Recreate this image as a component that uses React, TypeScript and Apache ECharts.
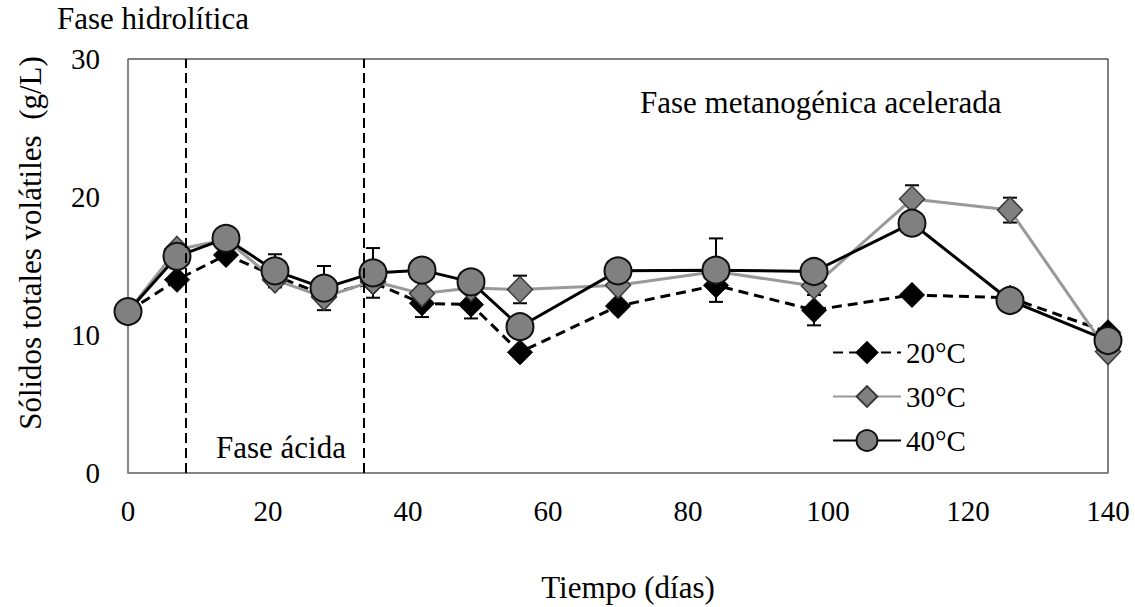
import React, { useEffect, useRef } from "react";
import * as echarts from "echarts";

const days = [0, 7, 14, 21, 28, 35, 42, 49, 56, 70, 84, 98, 112, 126, 140];
const s20 = [11.7, 14.0, 15.8, 14.3, 12.9, 13.8, 12.3, 12.2, 8.75, 12.1, 13.6, 11.8, 12.9, 12.7, 10.2];
const s30 = [11.7, 16.2, 16.9, 14.0, 12.75, 13.9, 13.0, 13.4, 13.3, 13.6, 14.6, 13.55, 19.85, 19.05, 8.8];
const s40 = [11.7, 15.7, 17.0, 14.65, 13.4, 14.5, 14.7, 13.85, 10.6, 14.65, 14.7, 14.6, 18.1, 12.5, 9.6];
const e20 = [0, 0, 0, 0, 0, 0, 1.0, 1.0, 0, 0, 0, 1.1, 0, 0, 0];
const e30 = [0, 0, 0, 0, 0, 0, 0, 0, 1.0, 0, 0, 0, 1.0, 0.9, 0];
const e40 = [0, 0, 0, 1.2, 1.6, 1.8, 0, 0, 0, 0, 2.3, 0, 0, 0, 0];
const phaseLines = [8.3, 33.7];
const seriesNames = ["20°C", "30°C", "40°C"];

const FONT = '"Liberation Serif", "Times New Roman", serif';
const FS = 29;
const FT = 31;

export default function App() {
  const ref = useRef<HTMLDivElement>(null);
  useEffect(() => {
    if (!ref.current) return;
    const chart = echarts.init(ref.current, null, { renderer: "svg" });
    const pair = (vals: number[]) => days.map((d, i) => [d, vals[i]]);
    const errData: number[][] = [];
    [
      [s20, e20],
      [s30, e30],
      [s40, e40],
    ].forEach(([v, e]) => {
      days.forEach((d, i) => {
        if (e[i] > 0) errData.push([d, v[i], e[i]]);
      });
    });
    chart.setOption({
      animation: false,
      backgroundColor: "#fff",
      textStyle: { fontFamily: FONT },
      grid: {
        left: 128,
        top: 59,
        right: 27,
        bottom: 134,
        show: true,
        borderColor: "#000",
        borderWidth: 1,
        containLabel: false,
      },
      xAxis: {
        type: "value",
        min: 0,
        max: 140,
        interval: 20,
        axisLine: { show: true, lineStyle: { color: "#888", width: 1.5 } },
        axisTick: { show: false },
        splitLine: { show: false },
        axisLabel: { fontSize: FS, fontFamily: FONT, color: "#000", margin: 23 },
      },
      yAxis: {
        type: "value",
        min: 0,
        max: 30,
        interval: 10,
        axisLine: { show: true, lineStyle: { color: "#888", width: 1.5 } },
        axisTick: { show: false },
        splitLine: { show: false },
        axisLabel: { fontSize: FS, fontFamily: FONT, color: "#000", margin: 28 },
      },
      legend: {
        data: seriesNames,
        orient: "vertical",
        left: 827,
        top: 333,
        itemWidth: 68,
        itemHeight: 26,
        itemGap: 15,
        textStyle: { fontSize: FS, fontFamily: FONT, color: "#000" },
      },
      graphic: [
        {
          type: "text",
          x: 57,
          y: 18,
          style: { text: "Fase hidrolítica", font: `${FT}px ${FONT}`, fill: "#000", align: "left", verticalAlign: "middle" },
        },
        {
          type: "text",
          x: 640,
          y: 102,
          style: { text: "Fase metanogénica acelerada", font: `${FT}px ${FONT}`, fill: "#000", align: "left", verticalAlign: "middle" },
        },
        {
          type: "text",
          x: 216,
          y: 447,
          style: { text: "Fase ácida", font: `${FT}px ${FONT}`, fill: "#000", align: "left", verticalAlign: "middle" },
        },
        {
          type: "text",
          x: 30,
          y: 243,
          rotation: Math.PI / 2,
          style: { text: "Sólidos totales volátiles  (g/L)", font: `${FT}px ${FONT}`, fill: "#000", align: "center", verticalAlign: "middle" },
        },
        {
          type: "text",
          x: 628,
          y: 587,
          style: { text: "Tiempo (días)", font: `${FT}px ${FONT}`, fill: "#000", align: "center", verticalAlign: "middle" },
        },
      ],
      series: [
        {
          type: "custom",
          name: "err",
          z: 1,
          silent: true,
          data: errData,
          renderItem: (params: any, api: any) => {
            const x = api.value(0);
            const y = api.value(1);
            const e = api.value(2);
            const t = api.coord([x, y + e]);
            const b = api.coord([x, y - e]);
            const hw = 7;
            const st = { stroke: "#000", lineWidth: 2 };
            return {
              type: "group",
              children: [
                { type: "line", shape: { x1: t[0], y1: t[1], x2: b[0], y2: b[1] }, style: st },
                { type: "line", shape: { x1: t[0] - hw, y1: t[1], x2: t[0] + hw, y2: t[1] }, style: st },
                { type: "line", shape: { x1: b[0] - hw, y1: b[1], x2: b[0] + hw, y2: b[1] }, style: st },
              ],
            };
          },
          markLine: {
            silent: true,
            symbol: "none",
            label: { show: false },
            lineStyle: { color: "#000", type: [10, 5], width: 2 },
            data: phaseLines.map((v) => ({ xAxis: v })),
          },
        },
        {
          type: "line",
          name: seriesNames[0],
          z: 2,
          data: pair(s20),
          symbol: "diamond",
          symbolSize: 25,
          lineStyle: { color: "#000", width: 3, type: [10, 6] },
          itemStyle: { color: "#000", borderColor: "#000", borderWidth: 1 },
        },
        {
          type: "line",
          name: seriesNames[1],
          z: 3,
          data: pair(s30),
          symbol: "diamond",
          symbolSize: [25, 26],
          lineStyle: { color: "#999", width: 3 },
          itemStyle: { color: "#808080", borderColor: "#3a3a3a", borderWidth: 1.5 },
        },
        {
          type: "line",
          name: seriesNames[2],
          z: 4,
          data: pair(s40),
          symbol: "circle",
          symbolSize: 27,
          lineStyle: { color: "#000", width: 3 },
          itemStyle: { color: "#808080", borderColor: "#111", borderWidth: 2 },
        },
      ],
    });
    return () => chart.dispose();
  }, []);
  return (
    <div
      ref={ref}
      style={{ position: "absolute", left: 0, top: 0, width: 1135, height: 607 }}
    />
  );
}
